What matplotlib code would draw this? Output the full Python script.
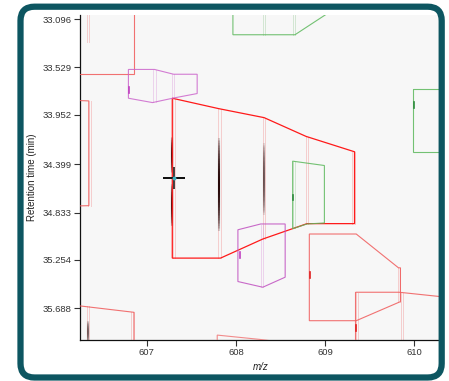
import numpy as np
import matplotlib
matplotlib.use('Agg')
import matplotlib.pyplot as plt
from matplotlib.patches import Polygon, FancyBboxPatch
from matplotlib.collections import LineCollection
from matplotlib.transforms import Affine2D

# ---- data (m/z, retention time in min) ----
yticks = [33.096, 33.529, 33.952, 34.399, 34.833, 35.254, 35.688]
xticks = [607, 608, 609, 610]

red_main = [(607.285, 33.806), (607.804, 33.899), (608.315, 33.980), (608.785, 34.148),
            (609.329, 34.286), (609.329, 34.930), (608.796, 34.930), (608.300, 35.068),
            (607.826, 35.239), (607.285, 35.239)]
red_topleft = [(606.0, 32.9), (606.857, 32.9), (606.857, 33.591), (606.0, 33.591)]
red_left = [(606.0, 33.820), (606.350, 33.830), (606.350, 34.769), (606.0, 34.775)]
red_box = [(608.822, 35.023), (609.348, 35.023), (609.822, 35.326), (609.844, 35.326),
           (609.844, 35.629), (609.348, 35.800), (608.822, 35.800)]
red_br = [(609.340, 35.545), (609.830, 35.545), (610.6, 35.610), (610.6, 36.2), (609.340, 36.2)]
red_bl = [(606.0, 35.665), (606.255, 35.668), (606.857, 35.725), (606.857, 36.2), (606.0, 36.2)]
red_bm = [(607.789, 35.929), (608.258, 35.967), (608.6, 36.0), (608.6, 36.2), (607.789, 36.2)]

mag_top = [(606.793, 33.548), (607.086, 33.548), (607.300, 33.591), (607.564, 33.591),
           (607.564, 33.764), (607.300, 33.804), (607.063, 33.845), (606.793, 33.806)]
mag_mid = [(608.021, 34.985), (608.277, 34.933), (608.551, 34.933), (608.551, 35.410),
           (608.300, 35.500), (608.021, 35.449)]

green_top = [(607.965, 32.9), (607.965, 33.237), (608.661, 33.237), (609.305, 32.9)]
green_right = [(609.988, 33.719), (610.6, 33.719), (610.6, 34.286), (609.988, 34.286)]
green_mid = [(608.635, 34.370), (608.991, 34.409), (608.991, 34.924), (608.796, 34.933),
             (608.635, 34.976)]

# faint traces: m/z, rt start, rt end
traces_red = [(607.300, 33.81, 35.24), (607.815, 33.90, 35.24), (608.315, 33.98, 35.07),
              (608.796, 34.15, 34.93), (609.318, 34.29, 34.93), (609.355, 35.55, 36.0),
              (609.860, 35.55, 36.0), (609.830, 35.33, 35.63), (606.338, 33.06, 33.30),
              (606.338, 35.67, 36.0), (606.830, 35.72, 36.0), (606.357, 33.83, 34.77)]
traces_mag = [(607.086, 33.55, 33.84), (607.290, 33.59, 33.80), (608.290, 34.94, 35.50)]
traces_green = [(608.315, 33.06, 33.237), (608.650, 33.06, 33.237), (608.650, 34.38, 34.97)]

# darker intensity streaks: m/z, rt start, rt end, peak opacity
streaks = [(607.285, 34.15, 34.48, 1.0), (607.285, 34.57, 34.96, 1.0),
           (607.804, 34.15, 35.01, 1.0), (608.315, 34.20, 34.86, 0.65),
           (606.338, 35.80, 36.0, 0.6)]

# small centroid marks: m/z, rt, colour
marks = [(606.805, 33.732, '#c040c0'), (609.992, 33.869, '#2e8b3e'), (608.638, 34.697, '#2e8b3e'),
         (608.040, 35.209, '#c040c0'), (608.829, 35.389, '#e02020'), (609.348, 35.866, '#e02020')]

cross = (607.30, 34.523)

# ---- figure ----
fig = plt.figure(figsize=(4.49, 3.81), dpi=100)
fig.patch.set_facecolor('white')
ax = fig.add_axes([80 / 449, 1 - 340 / 381, 362 / 449, 325 / 381])
ax.set_facecolor('#f7f7f7')

def hull(pts, color, lw=0.8, alpha=1.0):
    ax.add_patch(Polygon(pts, closed=True, fill=False, edgecolor=color, lw=lw, alpha=alpha, zorder=3))

def trace(mz, r0, r1, color, alpha=0.35):
    ax.plot([mz - 0.012, mz - 0.012], [r0, r1], color=color, lw=0.7, alpha=alpha, zorder=2)
    ax.plot([mz + 0.012, mz + 0.012], [r0, r1], color=color, lw=0.7, alpha=alpha, zorder=2)

for t in traces_red:
    trace(*t, '#f08080')
for t in traces_mag:
    trace(*t, '#d890d8')
for t in traces_green:
    trace(*t, '#90c890')

for mz, r0, r1, a in streaks:
    rr = np.linspace(r0, r1, 60)
    segs = [[(mz, rr[i]), (mz, rr[i + 1])] for i in range(len(rr) - 1)]
    prof = np.sin(np.linspace(0, np.pi, len(segs))) ** 0.6
    cols = [(0.15, 0.03, 0.03, a * p) for p in prof]
    ax.add_collection(LineCollection(segs, colors=cols, linewidths=1.5, zorder=2.5))

hull(red_main, '#ff1a1a', 0.9)
for p in (red_topleft, red_left, red_box, red_br, red_bl):
    hull(p, '#f05a5a', 0.8, 0.85)
hull(red_bm, '#f07070', 0.8, 0.8)
hull(mag_top, '#cc66cc', 0.8, 0.85)
hull(mag_mid, '#c050c0', 0.8, 0.85)
for p in (green_top, green_right, green_mid):
    hull(p, '#5cb85c', 0.8, 0.85)

for mz, rt, c in marks:
    ax.plot([mz, mz], [rt - 0.025, rt + 0.025], color=c, lw=1.2, zorder=4)

ax.plot(*cross, marker='+', color='#111111', markersize=16, mew=1.1, zorder=5)
ax.plot(*cross, marker='o', color='#3fb0c0', markersize=1.8, zorder=6)

ax.set_xlim(606.25, 610.31)
ax.set_ylim(35.973, 33.06)
ax.set_yticks(yticks)
ax.set_yticklabels([f'{v:.3f}' for v in yticks])
ax.set_xticks(xticks)
ax.spines['top'].set_visible(False)
ax.spines['right'].set_visible(False)
for s in ('left', 'bottom'):
    ax.spines[s].set_linewidth(0.9)
    ax.spines[s].set_color('#111111')
ax.tick_params(axis='both', length=4, width=0.8, color='#333333', labelsize=6.8,
               labelcolor='#333333', pad=2)
for lab in ax.get_xticklabels() + ax.get_yticklabels():
    lab.set_family('Liberation Sans')

ax.set_ylabel('Retention time (min)', fontsize=7, family='Liberation Sans', color='#222222', labelpad=4)
ax.set_xlabel('m/z', fontsize=7, family='Liberation Sans', style='italic', color='#222222', labelpad=3)

# rounded teal frame, in pixel units
px = Affine2D().scale(1 / 449, 1 / 381) + fig.transFigure
frame = FancyBboxPatch((20.5, 3.5), 421.2, 370.8, boxstyle='round,pad=0,rounding_size=14',
                       transform=px, fill=False, edgecolor='#0d5661', lw=4.5, zorder=10)
clip = FancyBboxPatch((20.5, 3.5), 421.2, 370.8, boxstyle='round,pad=0,rounding_size=14',
                      transform=px)
ax.patch.set_clip_path(clip)
for art in ax.get_children():
    art.set_clip_path(clip)
fig.patches.append(frame)

fig.savefig('out.png', dpi=100)
